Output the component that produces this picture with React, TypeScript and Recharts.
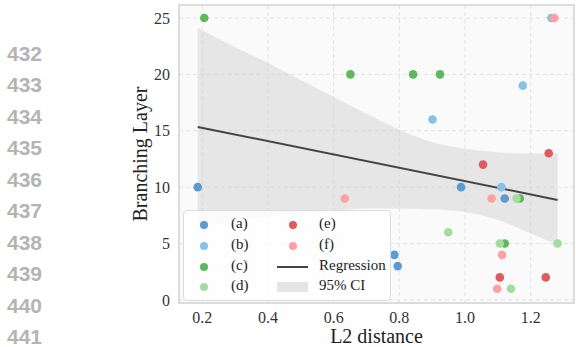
import {
  ComposedChart, Scatter, Line, Area, XAxis, YAxis, CartesianGrid, ReferenceArea,
} from "recharts";

// ── data ────────────────────────────────────────────────────────
const aX = [0.186, 0.988, 1.121, 0.785, 0.795];
const aY = [10, 10, 9, 4, 3];
const bX = [1.263, 1.176, 0.901, 1.111];
const bY = [25, 19, 16, 10];
const cX = [0.206, 0.651, 0.842, 0.924, 1.167, 1.121];
const cY = [25, 20, 20, 20, 9, 5];
const dX = [1.157, 0.949, 1.106, 1.282, 1.14];
const dY = [9, 6, 5, 5, 1];
const eX = [1.055, 1.255, 1.106, 1.246];
const eY = [12, 13, 2, 2];
const fX = [1.272, 0.634, 1.081, 1.113, 1.098];
const fY = [25, 9, 9, 4, 1];

// regression line end points and the 95% CI band edges
const regX = [0.186, 1.282];
const regY = [15.34, 8.87];
const ciX = [0.186, 0.3, 0.4, 0.5, 0.6, 0.7, 0.8, 0.9, 1.0, 1.1, 1.2, 1.282];
const ciLow = [6.6, 7.0, 7.4, 7.7, 7.9, 8.1, 8.1, 8.05, 7.8, 7.1, 5.9, 4.9];
const ciHigh = [24.1, 22.4, 21.0, 19.5, 18.0, 16.5, 15.1, 14.0, 13.4, 13.1, 13.0, 13.0];

const xTicks = [0.2, 0.4, 0.6, 0.8, 1.0, 1.2];
const yTicks = [0, 5, 10, 15, 20, 25];
const lineNumbers = ["432", "433", "434", "435", "436", "437", "438", "439", "440", "441"];

const groups = [
  { name: "(a)", xs: aX, ys: aY, color: "#5b9bd0" },
  { name: "(b)", xs: bX, ys: bY, color: "#86c2e6" },
  { name: "(c)", xs: cX, ys: cY, color: "#5cb85e" },
  { name: "(d)", xs: dX, ys: dY, color: "#a5dba0" },
  { name: "(e)", xs: eX, ys: eY, color: "#e05a5e" },
  { name: "(f)", xs: fX, ys: fY, color: "#fca0a3" },
];

const bandData = ciX.map((x, i) => {
  const ri = regX.indexOf(x);
  return { x, band: [ciLow[i], ciHigh[i]], reg: ri >= 0 ? regY[ri] : undefined };
});

const SERIF = "'Liberation Serif', 'Times New Roman', serif";
const tickStyle = { fontSize: 16, fill: "#333", fontFamily: SERIF };

function Dot(color: string) {
  return (p: any) => <circle cx={p.cx} cy={p.cy} r={4.3} fill={color} />;
}

function LegendBox() {
  const itemText = { position: "absolute" as const, fontFamily: SERIF, fontSize: 15, color: "#222", lineHeight: "15px" };
  const rowsY = [14, 35, 56, 76];
  return (
    <div
      style={{
        position: "absolute", left: 183, top: 210, width: 208, height: 91,
        border: "1px solid #dcdcdc", borderRadius: 4, background: "rgba(255,255,255,0.8)", boxSizing: "border-box",
      }}
    >
      {groups.map((g, i) => {
        const col = i < 4 ? 0 : 1;
        const row = i < 4 ? i : i - 4;
        const mx = col === 0 ? 20 : 109;
        const tx = col === 0 ? 47 : 135;
        return (
          <div key={g.name}>
            <div style={{ position: "absolute", left: mx - 4, top: rowsY[row] - 4, width: 8, height: 8, borderRadius: 4, background: g.color }} />
            <div style={{ ...itemText, left: tx, top: rowsY[row] - 9 }}>{g.name}</div>
          </div>
        );
      })}
      <div style={{ position: "absolute", left: 93, top: rowsY[2] - 1, width: 31, height: 2, background: "#444" }} />
      <div style={{ ...itemText, left: 135, top: rowsY[2] - 9 }}>Regression</div>
      <div style={{ position: "absolute", left: 93, top: rowsY[3] - 5, width: 31, height: 10, background: "#e5e5e5" }} />
      <div style={{ ...itemText, left: 135, top: rowsY[3] - 9 }}>95% CI</div>
    </div>
  );
}

export default function App() {
  return (
    <div style={{ position: "absolute", left: 0, top: 0, width: 576, height: 347, background: "#fff" }}>
      <ComposedChart width={576} height={347} data={bandData} margin={{ top: 5, right: 2, bottom: 0, left: 129 }}>
        <CartesianGrid stroke="#e2e2e2" strokeDasharray="4 3" fill="#fafafa" />
        <XAxis
          dataKey="x" type="number" domain={[0.129, 1.332]} ticks={xTicks} allowDataOverflow
          tickFormatter={(v: number) => v.toFixed(1)} tick={tickStyle}
          axisLine={false} tickLine={false} tickSize={0} tickMargin={9} height={44}
        />
        <YAxis
          type="number" domain={[-0.27, 26.15]} ticks={yTicks} allowDataOverflow
          tick={tickStyle} axisLine={false} tickLine={false} tickSize={0} tickMargin={9} width={50}
        />
        <Area
          dataKey="band" type="monotone" stroke="none" fill="#cfcfcf" fillOpacity={0.45}
          isAnimationActive={false} activeDot={false}
        />
        <Line
          dataKey="reg" stroke="#444" strokeWidth={2} dot={false} connectNulls
          isAnimationActive={false} activeDot={false}
        />
        {groups.map((g) => (
          <Scatter
            key={g.name}
            name={g.name}
            data={g.xs.map((x, i) => ({ x, y: g.ys[i] }))}
            dataKey="y"
            fill={g.color}
            fillOpacity={0.95}
            shape={Dot(g.color)}
            isAnimationActive={false}
          />
        ))}
        <ReferenceArea
          x1={0.129} x2={1.332} y1={-0.27} y2={26.15}
          fill="none" stroke="#dcdcdc" strokeWidth={2} ifOverflow="visible"
        />
      </ComposedChart>
      <svg width={576} height={347} style={{ position: "absolute", left: 0, top: 0, pointerEvents: "none" }}>
        {lineNumbers.map((n, i) => (
          <text key={n} x={7} y={61 + i * 31.45} fontFamily="'Liberation Sans', Arial, sans-serif" fontWeight="bold" fontSize={21} fill="#b4b4b4">
            {n}
          </text>
        ))}
        <text x={376.5} y={343} textAnchor="middle" fontFamily={SERIF} fontSize={20} fill="#222">L2 distance</text>
        <text transform="translate(147,154) rotate(-90)" textAnchor="middle" fontFamily={SERIF} fontSize={20} fill="#222">
          Branching Layer
        </text>
      </svg>
      <LegendBox />
    </div>
  );
}
